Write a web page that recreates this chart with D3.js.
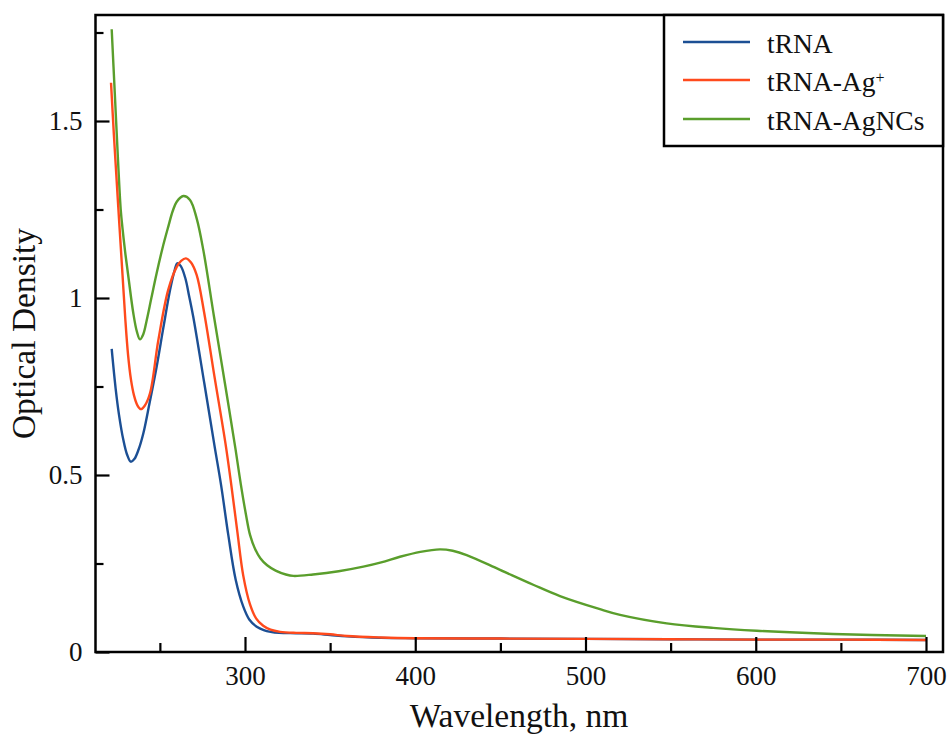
<!DOCTYPE html>
<html>
<head>
<meta charset="utf-8">
<script src="https://cdn.jsdelivr.net/npm/d3@7/dist/d3.min.js"></script>
<style>
  html, body { margin: 0; padding: 0; background: #fff; }
  svg { display: block; font-family: "Liberation Serif", "Times New Roman", serif; }
</style>
</head>
<body>
<svg id="chart" width="950" height="734"></svg>
<script>
// Absorption spectra: wavelength (nm) and optical density
const wlTRNA = [221.7, 224, 226, 228.5, 230.7, 232.9, 235, 237.5, 240.3, 244, 248.1, 252, 256, 258.5, 260.2, 262.3, 265, 267.2, 269.6, 276.1, 282.0, 286, 290.2, 294.5, 299.0, 302.5, 306.9, 311, 315, 320, 330, 340, 350, 360, 380, 400, 450, 500, 550, 600, 650, 700];
const odTRNA = [0.856, 0.745, 0.67, 0.60, 0.558, 0.5376, 0.545, 0.572, 0.618, 0.705, 0.806, 0.915, 1.023, 1.075, 1.098, 1.09, 1.055, 1.005, 0.947, 0.759, 0.585, 0.47, 0.33, 0.205, 0.128, 0.092, 0.0715, 0.062, 0.057, 0.054, 0.053, 0.052, 0.048, 0.044, 0.040, 0.039, 0.038, 0.037, 0.036, 0.035, 0.035, 0.034];

const wlAg = [221.3, 223, 224.6, 226.3, 228, 229.7, 231.3, 233, 234.8, 236.8, 238.9, 241, 244.2, 249.1, 254.9, 259.9, 262.5, 265.3, 268.3, 271.6, 275.9, 282.0, 288.5, 292, 295.5, 299, 302.9, 306.5, 310.7, 315, 320.6, 330, 340, 350, 360, 380, 400, 450, 500, 550, 600, 650, 700];
const odAg = [1.608, 1.46, 1.333, 1.20, 1.07, 0.94, 0.84, 0.77, 0.725, 0.697, 0.686, 0.695, 0.731, 0.881, 1.023, 1.088, 1.105, 1.112, 1.100, 1.065, 0.962, 0.78, 0.59, 0.47, 0.34, 0.215, 0.135, 0.095, 0.074, 0.063, 0.057, 0.054, 0.053, 0.050, 0.045, 0.041, 0.039, 0.038, 0.037, 0.036, 0.035, 0.035, 0.034];

const wlNCs = [221.7, 223.5, 225.3, 227.0, 228.2, 229.6, 231.5, 234.4, 236.5, 238.3, 240.2, 242.3, 245, 248.1, 251.5, 254.9, 257.5, 259.9, 263.8, 267.7, 271.6, 275.5, 281.8, 288.2, 294.5, 297.5, 300.5, 303, 306, 309, 313, 318, 324, 328.4, 340, 355, 369.5, 380, 391, 403, 414.5, 422, 430.2, 449.8, 469.3, 485, 508.5, 520.3, 547.7, 575, 600.6, 645.4, 700];
const odNCs = [1.759, 1.58, 1.40, 1.25, 1.19, 1.13, 1.06, 0.957, 0.905, 0.883, 0.897, 0.938, 1.0, 1.070, 1.14, 1.201, 1.245, 1.272, 1.288, 1.277, 1.225, 1.136, 0.947, 0.759, 0.571, 0.475, 0.39, 0.33, 0.29, 0.265, 0.245, 0.23, 0.219, 0.215, 0.219, 0.228, 0.241, 0.253, 0.269, 0.283, 0.290, 0.286, 0.274, 0.232, 0.19, 0.158, 0.121, 0.105, 0.081, 0.068, 0.060, 0.051, 0.045];

const seriesNames = ["tRNA", "tRNA-Ag", "tRNA-AgNCs"];
const seriesColors = ["#1c4f94", "#ff4a1c", "#5a9e2c"];

const xMajorTicks = [300, 400, 500, 600, 700];
const xMinorTicks = [250, 350, 450, 550, 650];
const yMajorTicks = [0, 0.5, 1, 1.5];
const yMinorTicks = [0.25, 0.75, 1.25, 1.75];
const yTickLabels = ["0", "0.5", "1", "1.5"];

const svg = d3.select("#chart");
const plotL = 95.5, plotR = 943, plotT = 15, plotB = 652;

const x = d3.scaleLinear().domain([300, 700]).range([245, 926]);
const y = d3.scaleLinear().domain([0, 1.5]).range([plotB, 121]);

// frame
svg.append("rect")
  .attr("x", plotL).attr("y", plotT)
  .attr("width", plotR - plotL).attr("height", plotB - plotT)
  .attr("fill", "none").attr("stroke", "#000").attr("stroke-width", 2.5);

// spectra
const line = d3.line()
  .x(d => x(d[0])).y(d => y(d[1]))
  .curve(d3.curveCatmullRom.alpha(0.5));

const data = [
  d3.zip(wlTRNA, odTRNA),
  d3.zip(wlAg, odAg),
  d3.zip(wlNCs, odNCs)
];
// green first, then blue, red on top
[2, 0, 1].forEach(i => {
  svg.append("path")
    .datum(data[i])
    .attr("d", line)
    .attr("fill", "none")
    .attr("stroke", seriesColors[i])
    .attr("stroke-width", 2.4)
    .attr("stroke-linejoin", "round");
});

// x axis (inward ticks)
const xAxis = svg.append("g").attr("transform", `translate(0,${plotB})`);
xAxis.call(d3.axisBottom(x).tickValues(xMajorTicks).tickSize(-15).tickPadding(14).tickFormat(d3.format("d")));
xAxis.append("g").call(d3.axisBottom(x).tickValues(xMinorTicks).tickSize(-9).tickFormat(""));
xAxis.selectAll(".domain").remove();
xAxis.selectAll("line").attr("stroke", "#000").attr("stroke-width", 2.2);
xAxis.selectAll("text")
  .attr("font-family", "Liberation Serif")
  .attr("font-size", 27).attr("fill", "#111");

// y axis (inward ticks)
const yAxis = svg.append("g").attr("transform", `translate(${plotL},0)`);
yAxis.call(d3.axisLeft(y).tickValues(yMajorTicks).tickSize(-14).tickPadding(13)
  .tickFormat((d, i) => yTickLabels[i]));
yAxis.append("g").call(d3.axisLeft(y).tickValues(yMinorTicks).tickSize(-8).tickFormat(""));
yAxis.selectAll(".domain").remove();
yAxis.selectAll("line").attr("stroke", "#000").attr("stroke-width", 2.2);
yAxis.selectAll("text")
  .attr("font-family", "Liberation Serif")
  .attr("font-size", 27).attr("fill", "#111");

// axis titles
svg.append("text")
  .attr("x", 519).attr("y", 727)
  .attr("text-anchor", "middle")
  .attr("font-size", 33.5).attr("fill", "#111")
  .text("Wavelength, nm");

svg.append("text")
  .attr("transform", `translate(35,333.5) rotate(-90)`)
  .attr("text-anchor", "middle")
  .attr("font-size", 33.5).attr("fill", "#111")
  .text("Optical Density");

// legend
const lg = svg.append("g");
lg.append("rect")
  .attr("x", 664).attr("y", plotT)
  .attr("width", plotR - 664).attr("height", 131)
  .attr("fill", "#fff").attr("stroke", "#000").attr("stroke-width", 2.5);

const rowsY = [42, 80, 119];
seriesNames.forEach((name, i) => {
  lg.append("line")
    .attr("x1", 683).attr("x2", 750)
    .attr("y1", rowsY[i]).attr("y2", rowsY[i])
    .attr("stroke", seriesColors[i]).attr("stroke-width", 2.4);
  const t = lg.append("text")
    .attr("x", 767).attr("y", rowsY[i] + 10.5)
    .attr("font-size", 27.5).attr("fill", "#111")
    .text(name);
  if (i === 1) {
    t.append("tspan")
      .attr("dy", -8)
      .attr("font-size", 16)
      .text("+");
  }
});
</script>
</body>
</html>
